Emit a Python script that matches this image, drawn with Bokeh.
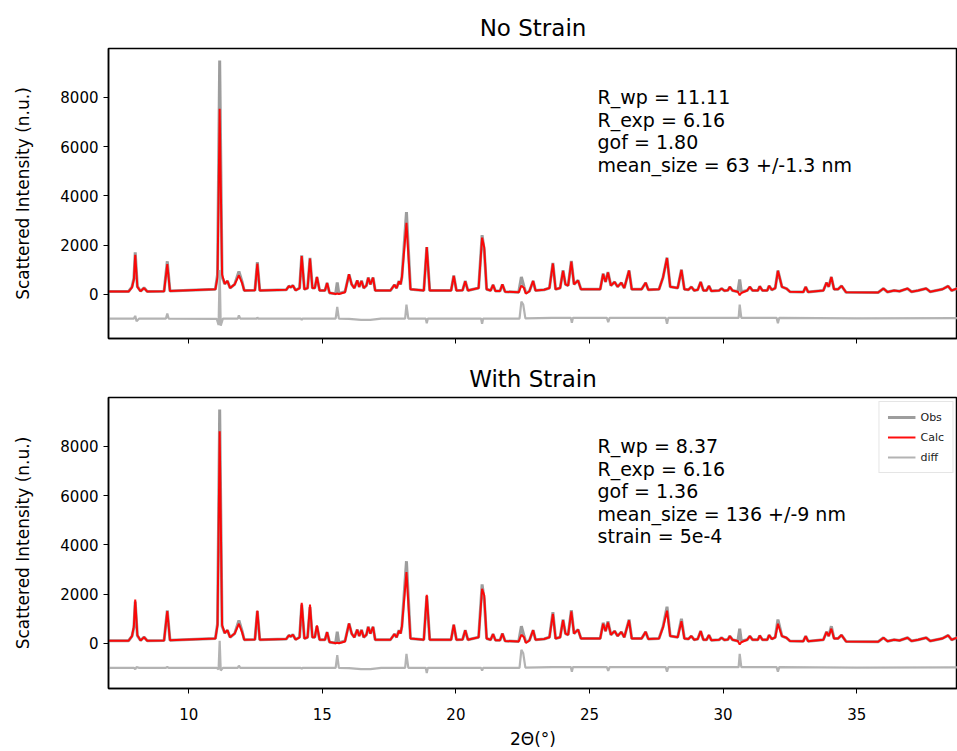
from bokeh.plotting import figure
from bokeh.layouts import column
from bokeh.models import Range1d, FixedTicker, Legend, LegendItem, CustomJSTickFormatter
from bokeh.embed import file_html
from bokeh.resources import INLINE
from bokeh.core.properties import value

FONT = "DejaVu Sans"

# ---- pattern trace (2theta in degrees) ----
two_theta = [
    7.00, 7.75, 7.88, 7.95, 8.00, 8.08, 8.20, 8.33, 8.45, 9.08, 9.20, 9.30,
    11.00, 11.08, 11.16, 11.25, 11.35, 11.45, 11.55, 11.72, 11.88, 12.00, 12.08, 12.48, 12.57, 12.66,
    13.65, 13.75, 13.82, 13.90, 14.00, 14.15, 14.23, 14.33, 14.45, 14.54, 14.63, 14.72, 14.80, 14.90,
    15.10, 15.18, 15.27, 15.50, 15.56, 15.62, 15.85, 16.00, 16.10, 16.20, 16.31, 16.38, 16.47, 16.55,
    16.65, 16.72, 16.80, 16.90, 16.98,
    17.55, 17.70, 17.78, 17.87, 17.93, 17.98, 18.15, 18.30, 18.80, 18.91, 19.02, 19.82, 19.92, 20.02,
    20.25, 20.35, 20.45, 20.85, 20.98, 21.06, 21.15, 21.30, 21.39, 21.48, 21.65, 21.74, 21.84, 22.35,
    22.45, 22.55, 22.62, 22.75, 22.89, 22.98,
    23.30, 23.50, 23.63, 23.73, 23.90, 24.01, 24.10, 24.20, 24.32, 24.42, 24.57, 24.68, 25.00, 25.40,
    25.51, 25.60, 25.69, 25.80, 25.94, 26.05, 26.19, 26.30, 26.48, 26.58, 26.95, 27.10, 27.20, 27.60,
    27.75, 27.90, 28.02, 28.30, 28.44, 28.55,
    28.70, 28.81, 28.92, 29.05, 29.16, 29.26, 29.38, 29.47, 29.56, 29.85, 29.94, 30.05, 30.18, 30.25,
    30.35, 30.55, 30.62, 30.68, 30.90, 31.00, 31.10, 31.30, 31.37, 31.47, 31.65, 31.72, 31.82, 31.95,
    32.05, 32.20, 32.37, 32.50, 33.00, 33.09, 33.18, 33.75, 33.87, 33.95, 34.05, 34.15, 34.30, 34.43,
    34.60,
    35.80, 36.00, 36.15, 36.40, 36.60, 36.90, 37.05, 37.30, 37.60, 37.75, 38.20, 38.42, 38.55, 38.80,
]

obs = [
    110, 110, 300, 650, 1700, 320, 120, 260, 110, 120, 1340, 130,
    200, 800, 9500, 700, 420, 540, 250, 400, 930, 500, 150, 160, 1310, 150,
    180, 330, 280, 360, 160, 250, 1580, 200, 250, 1480, 250, 250, 700, 150,
    150, 460, 50, 20, 480, 30, 100, 810, 400, 250, 560, 300, 550, 250,
    350, 680, 400, 680, 150,
    150, 380, 250, 540, 400, 700, 3340, 200, 150, 1920, 150, 150, 760, 150,
    160, 540, 150, 250, 2400, 1800, 200, 150, 380, 130, 130, 400, 100, 80,
    700, 300, 50, 120, 540, 150,
    180, 250, 1270, 200, 250, 970, 400, 350, 1350, 400, 570, 200, 200, 200,
    840, 500, 900, 350, 500, 300, 470, 250, 970, 200, 200, 470, 180, 200,
    680, 1490, 300, 250, 1000, 200,
    180, 300, 150, 180, 500, 150, 150, 340, 130, 150, 230, 140, 160, 300,
    150, 100, 600, 100, 150, 300, 150, 150, 320, 150, 150, 340, 180, 250,
    970, 300, 230, 100, 90, 300, 90, 150, 470, 300, 700, 200, 200, 340,
    80,
    70, 230, 90, 150, 120, 230, 100, 150, 230, 100, 200, 330, 150, 250,
]

calc_no_strain = [
    110, 110, 280, 600, 1600, 300, 120, 250, 110, 120, 1220, 130,
    200, 700, 7540, 800, 420, 540, 250, 400, 770, 450, 150, 160, 1250, 150,
    180, 330, 280, 350, 160, 250, 1550, 200, 250, 1450, 250, 250, 700, 150,
    150, 460, 60, 10, 30, 10, 80, 810, 400, 250, 560, 300, 540, 250,
    350, 670, 400, 670, 150,
    150, 380, 250, 520, 400, 700, 2900, 200, 150, 1920, 150, 150, 740, 150,
    160, 530, 150, 250, 2300, 1900, 200, 150, 380, 130, 130, 400, 100, 80,
    350, 250, 20, 120, 540, 150,
    180, 250, 1250, 200, 250, 950, 400, 350, 1330, 400, 560, 200, 200, 200,
    820, 500, 880, 350, 500, 300, 470, 250, 960, 200, 200, 470, 180, 200,
    680, 1470, 300, 250, 990, 200,
    180, 300, 150, 180, 500, 150, 150, 340, 130, 150, 230, 140, 160, 300,
    150, 100, -40, 50, 150, 300, 150, 150, 320, 150, 150, 340, 180, 250,
    950, 300, 230, 100, 90, 300, 90, 150, 470, 300, 700, 200, 200, 340,
    80,
    70, 230, 90, 150, 120, 230, 100, 150, 230, 100, 200, 330, 150, 250,
]

calc_with_strain = [
    110, 110, 300, 700, 1780, 330, 120, 250, 110, 120, 1310, 130,
    200, 750, 8620, 750, 420, 540, 250, 400, 800, 450, 150, 160, 1330, 150,
    180, 330, 280, 350, 160, 250, 1650, 200, 250, 1580, 250, 250, 730, 150,
    150, 460, 60, 10, 30, 10, 80, 812, 400, 250, 560, 300, 540, 250,
    350, 670, 400, 670, 150,
    150, 380, 250, 520, 400, 700, 2900, 200, 150, 1977, 150, 150, 760, 150,
    160, 540, 150, 250, 2220, 1950, 200, 150, 380, 130, 130, 400, 100, 80,
    350, 250, 20, 120, 540, 150,
    180, 250, 1200, 200, 250, 950, 400, 350, 1300, 400, 560, 200, 200, 200,
    800, 500, 850, 350, 500, 300, 470, 250, 940, 200, 200, 470, 180, 200,
    650, 1330, 300, 250, 900, 200,
    180, 300, 150, 180, 500, 150, 150, 340, 130, 150, 230, 140, 160, 300,
    150, 100, -40, 50, 150, 300, 150, 150, 320, 150, 150, 340, 180, 250,
    800, 300, 230, 100, 90, 300, 90, 150, 470, 300, 600, 200, 200, 340,
    80,
    70, 230, 90, 150, 120, 230, 100, 150, 230, 100, 200, 330, 150, 250,
]

# ---- difference curves (offset by -1000) ----
diff_theta = [
    7.00, 7.95, 8.00, 8.05, 8.15, 9.15, 9.20, 9.25, 11.05, 11.12, 11.16, 11.20, 11.28,
    11.84, 11.88, 11.93, 12.55, 12.57, 12.60, 14.20, 14.23, 14.26, 15.50, 15.56, 15.62,
    16.00, 16.45, 16.80, 17.20, 18.10, 18.15, 18.22, 18.87, 18.91, 18.95, 20.94, 20.98, 21.02,
    22.38, 22.45, 22.52, 22.60, 23.60, 24.30, 24.34, 24.38, 25.65, 25.70, 25.75,
    27.85, 27.90, 27.95, 30.58, 30.62, 30.68, 32.00, 32.05, 32.10, 35.00, 38.80,
]
diff_no_strain = [
    -990, -990, -880, -1100, -990, -990, -780, -990, -1000, -1250, 980, -1280, -990,
    -990, -860, -990, -990, -940, -990, -990, -1050, -990, -990, -520, -990,
    -1000, -1040, -1040, -990, -990, -420, -990, -990, -1180, -990, -990, -1200, -990,
    -990, -300, -420, -980, -960, -960, -1160, -960, -960, -1140, -960,
    -960, -1200, -960, -960, -420, -960, -960, -1180, -960, -980, -970,
]
diff_with_strain = [
    -990, -990, -1050, -960, -990, -990, -960, -990, -990, -1050, 110, -1100, -990,
    -990, -900, -990, -990, -990, -990, -990, -1030, -990, -990, -470, -990,
    -1000, -1040, -1040, -990, -990, -420, -990, -990, -1200, -990, -990, -1100, -990,
    -990, -260, -400, -980, -960, -960, -1150, -960, -960, -1120, -960,
    -960, -1150, -960, -960, -420, -960, -960, -1150, -960, -980, -970,
]

titles = ["No Strain", "With Strain"]
notes_no_strain = ["R_wp = 11.11", "R_exp = 6.16", "gof = 1.80", "mean_size = 63 +/-1.3 nm"]
notes_with_strain = ["R_wp = 8.37", "R_exp = 6.16", "gof = 1.36", "mean_size = 136 +/-9 nm", "strain = 5e-4"]
legend_labels = ["Obs", "Calc", "diff"]
x_ticks = [10, 15, 20, 25, 30, 35]
y_ticks = [0, 2000, 4000, 6000, 8000]

OBS_COLOR = "#8c8c8c"
CALC_COLOR = "#ff0000"
DIFF_COLOR = "#ababab"


def panel(title, calc, diff, notes, y_lo, frame_h, top_border, bottom_border,
          show_xlabels, title_standoff):
    p = figure(frame_width=849, frame_height=frame_h,
               x_range=Range1d(7.0, 38.77), y_range=Range1d(y_lo, 9990),
               output_backend="svg", toolbar_location=None,
               min_border_left=108, min_border_right=0,
               min_border_top=top_border, min_border_bottom=bottom_border,
               background_fill_color="white", border_fill_color="white")
    p.grid.visible = False
    p.outline_line_color = "black"
    p.outline_line_width = 1.5

    p.title.text = title
    p.title.align = "center"
    p.title.text_font = FONT
    p.title.text_font_size = "23px"
    p.title.text_font_style = "normal"
    p.title.text_color = "black"
    p.title.standoff = title_standoff

    for ax in (p.xaxis[0], p.yaxis[0]):
        ax.axis_line_width = 1.5
        ax.axis_line_color = "black"
        ax.major_tick_out = 5
        ax.major_tick_in = 0
        ax.major_tick_line_color = "black"
        ax.minor_tick_line_color = None
        ax.major_label_text_font = FONT
        ax.major_label_text_font_size = "15px"
        ax.major_label_text_color = "black"
        ax.axis_label_text_font = FONT
        ax.axis_label_text_font_size = "17px"
        ax.axis_label_text_font_style = "normal"
        ax.axis_label_text_color = "black"

    p.xaxis.ticker = FixedTicker(ticks=x_ticks)
    p.yaxis.ticker = FixedTicker(ticks=y_ticks)
    p.yaxis.axis_label = "Scattered Intensity (n.u.)"
    p.yaxis.axis_label_standoff = 24
    p.yaxis.major_label_standoff = 5
    if show_xlabels:
        p.xaxis.axis_label = "2\u0398(\u00b0)"
        p.xaxis.axis_label_standoff = 6
        p.xaxis.major_label_standoff = 14
    else:
        p.xaxis.formatter = CustomJSTickFormatter(code="return '';")
        p.xaxis.major_label_standoff = 0

    r_obs = p.line(two_theta, obs, line_color=OBS_COLOR, line_width=3.0, line_alpha=0.85)
    r_calc = p.line(two_theta, calc, line_color=CALC_COLOR, line_width=2.0, line_alpha=0.95)
    r_diff = p.line(diff_theta, diff, line_color=DIFF_COLOR, line_width=2.2, line_alpha=0.9)

    ys = [8000 - 913 * i for i in range(len(notes))]
    p.text(x=[25.3] * len(notes), y=ys, text=notes,
           text_font=value(FONT), text_font_size="19px",
           text_baseline="middle", text_align="left", text_color="black")
    return p, (r_obs, r_calc, r_diff)


p1, _ = panel(titles[0], calc_no_strain, diff_no_strain, notes_no_strain,
              -1800, 290, 48, 20, False, 15)
p2, rs = panel(titles[1], calc_with_strain, diff_with_strain, notes_with_strain,
               -1830, 291, 39, 62, True, 11)

leg = Legend(items=[LegendItem(label=lab, renderers=[r]) for lab, r in zip(legend_labels, rs)],
             location="top_right")
leg.label_text_font = FONT
leg.label_text_font_size = "11px"
leg.label_text_color = "#222222"
leg.glyph_width = 28
leg.glyph_height = 14
leg.spacing = 6
leg.padding = 8
leg.margin = 4
leg.label_height = 14
leg.border_line_color = "#cccccc"
leg.border_line_width = 1
leg.background_fill_alpha = 0.85
p2.add_layout(leg)

layout = column(p1, p2, spacing=0)
open("out.html", "w").write(file_html(layout, INLINE))
